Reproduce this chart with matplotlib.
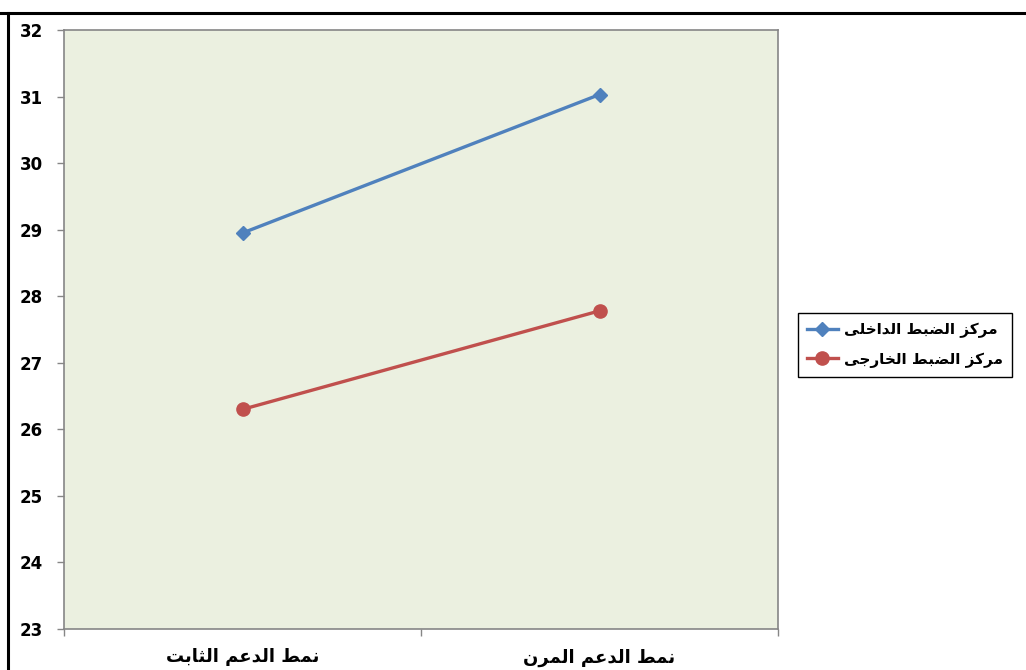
"""Line chart: locus of control by support pattern (two groups, two conditions)."""
import unicodedata
import numpy as np
import matplotlib
matplotlib.use("Agg")
import matplotlib.pyplot as plt
from matplotlib.lines import Line2D

categories = ["نمط الدعم الثابت", "نمط الدعم المرن"]
series_names = ["مركز الضبط الداخلى", "مركز الضبط الخارجى"]
internal = [28.95, 31.03]
external = [26.30, 27.78]
yticks = [23, 24, 25, 26, 27, 28, 29, 30, 31, 32]

BLUE, RED = "#4F81BD", "#C0504D"
PLOT_BG = "#EBF0E0"
AXIS = "#868686"


def shape(s):
    # minimal arabic shaping: pick presentation forms, then reverse for LTR drawing
    def form(c, f):
        try:
            return unicodedata.lookup(unicodedata.name(c) + " " + f + " FORM")
        except (KeyError, ValueError):
            return None

    out = []
    for i, c in enumerate(s):
        if c == " ":
            out.append(c)
            continue
        prev = i > 0 and s[i - 1] != " " and form(s[i - 1], "INITIAL") is not None
        nxt = (i + 1 < len(s) and s[i + 1] != " "
               and form(c, "INITIAL") is not None)
        key = {(False, False): "ISOLATED", (True, False): "FINAL",
               (False, True): "INITIAL", (True, True): "MEDIAL"}[(prev, nxt)]
        out.append(form(c, key) or c)
    return "".join(reversed(out))


plt.rcParams["font.family"] = ["DejaVu Sans"]

fig = plt.figure(figsize=(10.26, 6.70), dpi=100)
ax = fig.add_axes([64 / 1026, 41 / 670, 714 / 1026, 599 / 670])
ax.set_facecolor(PLOT_BG)

x = np.array([0.5, 1.5])
ax.plot(x, internal, color=BLUE, lw=2.4, marker="D", ms=7.5,
        label=shape(series_names[0]))
ax.plot(x, external, color=RED, lw=2.4, marker="o", ms=9.5,
        label=shape(series_names[1]))

ax.set_xlim(0, 2)
ax.set_ylim(23, 32)
ax.set_yticks(yticks)
ax.set_yticklabels([str(t) for t in yticks], fontsize=12, fontweight="bold")
ax.set_xticks([0, 1, 2])
ax.set_xticklabels([])
ax.set_xticks(x, minor=True)
ax.set_xticklabels([shape(c) for c in categories], minor=True,
                   fontsize=13, fontweight="bold")
ax.tick_params(axis="x", which="minor", length=0, pad=14)
ax.tick_params(axis="both", which="major", length=5, color=AXIS, width=1)
ax.tick_params(axis="y", pad=10)
for sp in ax.spines.values():
    sp.set_color(AXIS)
    sp.set_linewidth(1.2)

fig.legend(loc="center left", bbox_to_anchor=(798 / 1026, 1 - 345 / 670),
           borderaxespad=0, frameon=True, fancybox=False, edgecolor="black",
           framealpha=1, prop={"weight": "bold", "size": 11},
           handlelength=2.0, handletextpad=0.4, borderpad=0.6,
           labelspacing=0.9)

# page frame visible around the chart
fig.add_artist(Line2D([0, 1], [1 - 13 / 670] * 2, color="black", lw=2.2,
                      transform=fig.transFigure))
fig.add_artist(Line2D([8 / 1026] * 2, [0, 1 - 13 / 670], color="black", lw=2.2,
                      transform=fig.transFigure))

fig.savefig("out.png", dpi=100)
